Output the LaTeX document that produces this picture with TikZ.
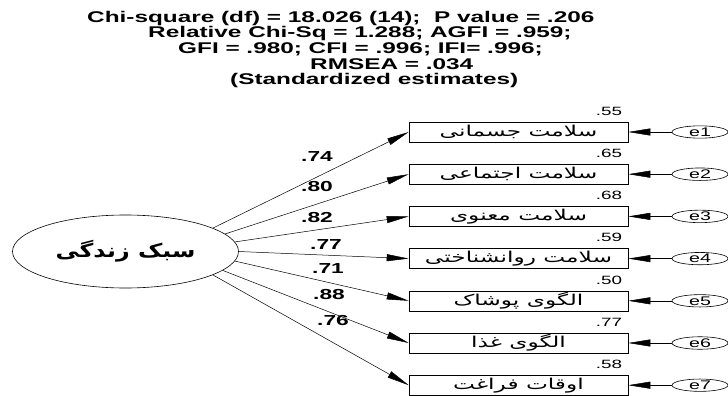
\documentclass[tikz,border=0pt]{standalone}
\usepackage{fontspec}
\usetikzlibrary{arrows.meta,shapes.geometric,positioning}
\TeXXeTstate=1
\newfontfamily\amosfont[FakeStretch=1.57]{Liberation Sans}
\newfontfamily\farsifont[Script=Arabic,FakeStretch=1.25]{DejaVu Sans}
\newfontfamily\farsiwide[Script=Arabic,FakeStretch=1.55]{DejaVu Sans}

\tikzset{
    latent/.style={ellipse, draw, line width=0.6pt, minimum width=226pt, minimum height=73pt, inner sep=0pt,
        font=\farsifont\bfseries\fontsize{19}{19}\selectfont},
    observed/.style={rectangle, draw, line width=0.6pt, minimum width=219pt, minimum height=20pt, inner sep=0pt,
        font=\farsiwide\fontsize{15}{15}\selectfont},
    errvar/.style={ellipse, draw, line width=0.6pt, minimum width=56pt, minimum height=12pt, inner sep=0pt,
        font=\amosfont\fontsize{12.5}{12.5}\selectfont},
    loadarrow/.style={line width=0.5pt, -{Triangle[length=22pt,width=7pt]}},
    fitline/.style={anchor=west, inner sep=0pt, font=\amosfont\bfseries\fontsize{15.5}{15.5}\selectfont},
    weight/.style={inner sep=0pt, font=\amosfont\bfseries\fontsize{14.5}{14.5}\selectfont},
    rsq/.style={anchor=south east, inner sep=0pt, font=\amosfont\fontsize{12}{12}\selectfont}
}

\begin{document}
\begin{tikzpicture}[x=1pt, y=-1pt]
    \useasboundingbox (0,0) rectangle (728,396);

    % model fit
    \node[fitline] (fit1) at (87,18) {Chi-square (df) = 18.026 (14);\ \ P value = .206};
    \node[fitline] (fit2) at (148,33.5) {Relative Chi-Sq = 1.288; AGFI = .959;};
    \node[fitline] (fit3) at (178,49) {GFI = .980; CFI = .996; IFI= .996;};
    \node[fitline] (fit4) at (310,64.5) {RMSEA = .034};
    \node[fitline] (fit5) at (230,80) {(Standardized estimates)};

    % latent variable
    \node[latent] (lv) at (125.5,251.5) {\beginR سبک زندگی\endR};

    % indicators, errors, loadings
    \foreach \i/\txt/\r/\ang in {1/سلامت جسمانی/.55/15, 2/سلامت اجتماعی/.65/10, 3/سلامت معنوی/.68/5,
        4/سلامت روانشناختی/.59/0, 5/الگوی پوشاک/.50/-5, 6/الگوی غذا/.77/-11, 7/اوقات فراغت/.58/-15}{
        \node[observed] (b\i) at (518.5,{132+42.2*(\i-1)}) {\beginR \txt\endR};
        \node[errvar] (e\i) at (700,{132+42.2*(\i-1)}) {e\i};
        \node[rsq] (r\i) at ([xshift=-6pt,yshift=6pt]b\i.north east) {\r};
        \draw[loadarrow] (e\i) -- (b\i);
        \draw[loadarrow] (lv.\ang) -- (b\i.west);
    }

    \node[weight] (w1) at (317,157) {.74};
    \node[weight] (w2) at (317,187) {.80};
    \node[weight] (w3) at (317,218) {.82};
    \node[weight] (w4) at (326,245) {.77};
    \node[weight] (w5) at (328,269) {.71};
    \node[weight] (w6) at (329,295) {.88};
    \node[weight] (w7) at (333,321) {.76};
\end{tikzpicture}
\end{document}
